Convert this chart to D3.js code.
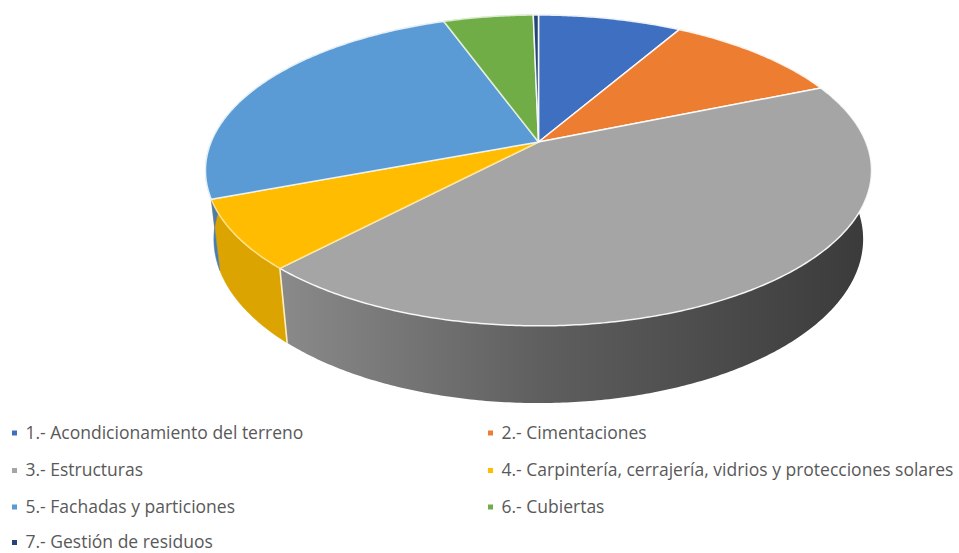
<!DOCTYPE html>
<html>
<head>
<meta charset="utf-8">
<script src="https://cdn.jsdelivr.net/npm/d3@7"></script>
<style>
  html, body { margin: 0; padding: 0; background: #fff; }
  svg { display: block; }
  .legend text { font-family: "Open Sans", sans-serif; font-size: 17.5px; fill: #595959; }
</style>
</head>
<body>
<svg id="chart" width="959" height="553"></svg>
<script>
// Budget share per chapter, in percent
const categories = [
  "1.- Acondicionamiento del terreno",
  "2.- Cimentaciones",
  "3.- Estructuras",
  "4.- Carpintería, cerrajería, vidrios y protecciones solares",
  "5.- Fachadas y particiones",
  "6.- Cubiertas",
  "7.- Gestión de residuos"
];
const shares = [8.3, 10.4, 43.3, 7.2, 25.3, 5.2, 0.3];
const topColors = ["#3F6FC1", "#ED7D31", "#A5A5A5", "#FFBC00", "#5B9BD5", "#70AD47", "#264478"];
const wallColors = ["#33599C", "#C0652A", "#868686", "#DCA400", "#4A7DAC", "#5A8C3A", "#1E3660"];
const edgeColors = ["#FFFFFF", "#FFFFFF", "#FFFFFF", "#FFE79A", "#F2F8FC", "#E6F2DC", "#FFFFFF"];
const legendColumns = [12, 488];
const legendRows = [433, 470.5, 507, 542.5];

const svg = d3.select("#chart");
const defs = svg.append("defs");

// Perspective camera for a tilted disc: z = 0 on the top face, z = 1 on the base
const cam = { cx: 538.5, cy: 142, a: 327.4, b: 150.2, p: 0.183, q: 0.025, d: 69.6 };
function project(theta, z) {
  const s = Math.sin(theta), t = Math.cos(theta);
  const w = 1 + cam.p * t + cam.q * z;
  return [cam.cx + cam.a * s / w, cam.cy + (-cam.b * t + cam.d * z) / w];
}

const arcs = d3.pie().sort(null).value(d => d)(shares);
const line = d3.line().curve(d3.curveLinear);

function samples(a0, a1) {
  const n = Math.max(2, Math.ceil((a1 - a0) / 0.01));
  return d3.range(n + 1).map(i => a0 + (a1 - a0) * i / n);
}

// Shaded rim running left to right across the large slice
const rimShade = defs.append("linearGradient")
  .attr("id", "rimShade")
  .attr("gradientUnits", "userSpaceOnUse")
  .attr("x1", 280).attr("x2", 872).attr("y1", 0).attr("y2", 0);
rimShade.append("stop").attr("offset", 0).attr("stop-color", "#8A8A8A");
rimShade.append("stop").attr("offset", 0.45).attr("stop-color", "#5E5E5E");
rimShade.append("stop").attr("offset", 1).attr("stop-color", "#3A3A3A");

const walls = svg.append("g").attr("class", "walls");
arcs.forEach((d, i) => {
  const angles = samples(d.startAngle, d.endAngle);
  const pts = angles.map(a => project(a, 0))
    .concat(angles.slice().reverse().map(a => project(a, 1)));
  walls.append("path")
    .attr("d", line(pts) + "Z")
    .attr("fill", i === 2 ? "url(#rimShade)" : wallColors[i])
    .attr("stroke", i === 2 ? "none" : wallColors[i])
    .attr("stroke-width", 0.5);
});

// Seam between rim sections that face the viewer
const seamAngle = arcs[2].endAngle;
walls.append("path")
  .attr("d", line([project(seamAngle, 0), project(seamAngle, 1)]))
  .attr("stroke", "#FBEFC4").attr("stroke-width", 1.6).attr("fill", "none");

const faces = svg.append("g").attr("class", "faces");
arcs.forEach((d, i) => {
  const rim = samples(d.startAngle, d.endAngle).map(a => project(a, 0));
  faces.append("path")
    .attr("d", line([[cam.cx, cam.cy], ...rim]) + "Z")
    .attr("fill", topColors[i])
    .attr("stroke", edgeColors[i])
    .attr("stroke-opacity", 0.9)
    .attr("stroke-width", 1.5)
    .attr("stroke-linejoin", "round");
});

// Legend: two columns filled row by row
const legend = svg.append("g").attr("class", "legend");
categories.forEach((name, i) => {
  const x = legendColumns[i % 2];
  const y = legendRows[Math.floor(i / 2)];
  legend.append("rect")
    .attr("x", x).attr("y", y - 2.5)
    .attr("width", 5).attr("height", 5)
    .attr("fill", topColors[i]);
  legend.append("text")
    .attr("x", x + 13.5).attr("y", y + 5.5)
    .text(name);
});
</script>
</body>
</html>
